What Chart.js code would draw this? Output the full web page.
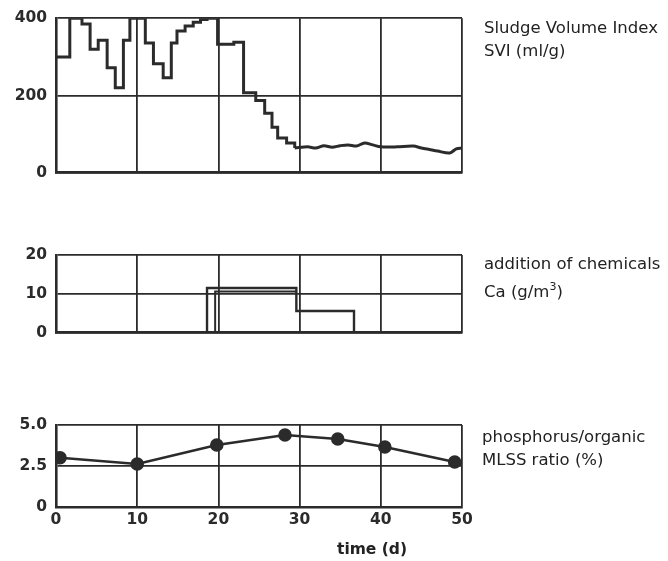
<!DOCTYPE html>
<html>
<head>
<meta charset="utf-8">
<script src="https://cdn.jsdelivr.net/npm/chart.js@4/dist/chart.umd.min.js"></script>
<style>
  body { margin: 0; background: #fff; }
  #wrap { position: relative; width: 668px; height: 561px; overflow: hidden; font-family: "DejaVu Sans", sans-serif; color: #222; }
  canvas { position: absolute; left: 0; }
  .lbl { position: absolute; font-size: 16.5px; line-height: 23px; white-space: nowrap; }
</style>
</head>
<body>
<div id="wrap">
  <canvas id="svi" width="668" height="191" style="top:0px"></canvas>
  <canvas id="ca" width="668" height="116" style="top:235px"></canvas>
  <canvas id="pr" width="668" height="156" style="top:405px"></canvas>
  <div class="lbl" style="left:484px; top:16px">Sludge Volume Index<br>SVI (ml/g)</div>
  <div class="lbl" style="left:484px; top:252px">addition of chemicals<br>Ca (g/m<sup style="font-size:11px">3</sup>)</div>
  <div class="lbl" style="left:482px; top:425px">phosphorus/organic<br>MLSS ratio (%)</div>
  <div class="lbl" style="left:337px; top:538px; font-weight:bold; font-size:15.5px">time (d)</div>
</div>
<script>
// time axis (days)
const dayTicks = [0, 10, 20, 30, 40, 50];

// SVI (ml/g), stepped part (value holds from the given day)
const sviStepDays = [0, 1.7, 3.2, 4.2, 5.2, 6.3, 7.3, 8.3, 9.1, 11.0, 12.0, 13.2, 14.2, 14.9, 15.9, 16.9, 17.8, 18.6, 19.9, 21.9, 23.1, 24.6, 25.7, 26.6, 27.3, 28.4, 29.4];
const sviStepValues = [300, 400, 385, 320, 343, 272, 220, 343, 400, 336, 282, 246, 336, 367, 380, 390, 397, 400, 333, 338, 207, 187, 154, 118, 90, 77, 64];
// SVI (ml/g), wavy tail
const sviTailDays = [29.4, 31, 32, 33, 34, 35, 36, 37, 38, 39, 40, 42, 44, 45, 46, 47, 48.5, 49.3, 50];
const sviTailValues = [64, 67, 64, 70, 66, 70, 72, 69, 77, 72, 67, 67, 69, 64, 60, 56, 51, 62, 64];

// Ca dosing (g/m3), two printed step lines
const caDaysA = [18.6, 18.6, 29.6, 36.7];
const caValuesA = [0, 11.5, 5.6, 0];
const caDaysB = [19.6, 19.6, 29.6];
const caValuesB = [0, 10.6, 10.6];

// phosphorus / organic MLSS ratio (%)
const pDays = [0.5, 10, 19.8, 28.2, 34.7, 40.5, 49.1];
const pValues = [3.0, 2.62, 3.78, 4.39, 4.15, 3.66, 2.74];

const ink = '#2b2b2b';
const tickFont = { family: 'DejaVu Sans', size: 15.5, weight: 'bold' };

function pts(xs, ys) { return xs.map((x, i) => ({ x: x, y: ys[i] })); }

function makeOptions(yMax, yStep, showX, padTop, padBottom) {
    return {
        responsive: false,
        animation: false,
        layout: { padding: { left: 0, right: 206, top: padTop, bottom: padBottom } },
        plugins: { legend: { display: false }, tooltip: { enabled: false } },
        scales: {
            x: {
                type: 'linear', min: 0, max: 50,
                afterBuildTicks: (s) => { s.ticks = dayTicks.map(v => ({ value: v })); },
                grid: { color: ink, lineWidth: 1.8, drawTicks: false },
                border: { color: ink, width: 2.6 },
                ticks: { display: showX, color: ink, font: tickFont, padding: 4 },
                afterFit: (s) => { s.height = showX ? 40 : 0; }
            },
            y: {
                min: 0, max: yMax,
                grid: { color: ink, lineWidth: 1.8, drawTicks: false },
                border: { color: ink, width: 2.6 },
                ticks: { stepSize: yStep, color: ink, font: tickFont, padding: 9,
                         callback: (v) => yMax === 5 && v !== 0 ? v.toFixed(1) : v },
                afterFit: (s) => { s.width = 56; }
            }
        }
    };
}

new Chart(document.getElementById('svi'), {
    type: 'line',
    data: {
        datasets: [
            { data: pts(sviStepDays, sviStepValues), stepped: 'before', borderColor: ink, borderWidth: 3, pointRadius: 0 },
            { data: pts(sviTailDays, sviTailValues), borderColor: ink, borderWidth: 3, pointRadius: 0, tension: 0.3 }
        ]
    },
    options: makeOptions(400, 200, false, 17, 17)
});

new Chart(document.getElementById('ca'), {
    type: 'line',
    data: {
        datasets: [
            { data: pts(caDaysA, caValuesA), stepped: 'before', borderColor: ink, borderWidth: 2.4, pointRadius: 0 },
            { data: pts(caDaysB, caValuesB), stepped: 'before', borderColor: ink, borderWidth: 2, pointRadius: 0 }
        ]
    },
    options: makeOptions(20, 10, false, 20, 12)
});

new Chart(document.getElementById('pr'), {
    type: 'line',
    data: {
        datasets: [
            { data: pts(pDays, pValues), borderColor: ink, borderWidth: 2.6,
              pointRadius: 5.5, pointBackgroundColor: ink, pointBorderColor: ink }
        ]
    },
    options: makeOptions(5, 2.5, true, 20, 14)
});
</script>
</body>
</html>
